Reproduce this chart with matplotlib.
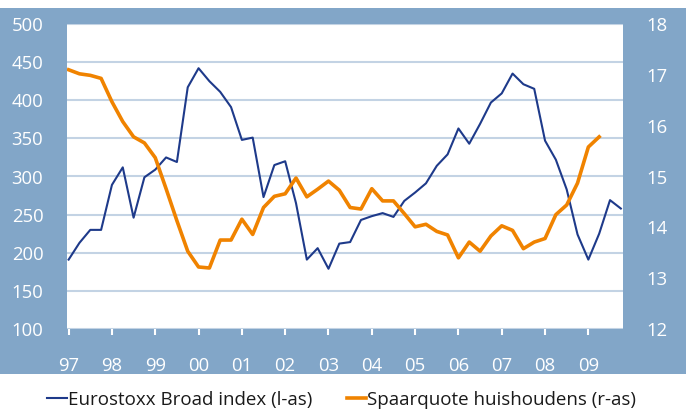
import matplotlib
matplotlib.use("Agg")
import matplotlib.pyplot as plt
from matplotlib.patches import Rectangle
import numpy as np

plt.rcParams['font.family'] = ['Open Sans', 'DejaVu Sans']

# Quarterly data, 1997Q1 .. 2009Q4
eurostoxx = [191, 213, 230, 230, 289, 312, 246, 299, 309, 325, 319, 417,
             442, 425, 411, 391, 348, 351, 273, 315, 320, 265, 191, 206,
             179, 212, 214, 243, 248, 252, 247, 268, 279, 291, 314, 329,
             363, 343, 369, 397, 409, 435, 421, 415, 347, 322, 283, 224,
             191, 225, 269, 258]
spaarquote = [17.10, 17.02, 16.99, 16.93, 16.47, 16.08, 15.78, 15.66, 15.37, 14.76,
              14.13, 13.53, 13.22, 13.20, 13.75, 13.75, 14.16, 13.86, 14.39, 14.61,
              14.66, 14.97, 14.60, 14.75, 14.91, 14.73, 14.39, 14.36, 14.76, 14.52,
              14.52, 14.27, 14.01, 14.06, 13.92, 13.85, 13.40, 13.71, 13.53, 13.83,
              14.03, 13.94, 13.58, 13.71, 13.78, 14.25, 14.44, 14.87, 15.58, 15.78]
year_labels = ['97', '98', '99', '00', '01', '02', '03', '04', '05', '06', '07', '08', '09']
left_ticks = [100, 150, 200, 250, 300, 350, 400, 450, 500]
right_ticks = [12, 13, 14, 15, 16, 17, 18]

BAND = '#82A6C8'
NAVY = '#1E3A8A'
ORANGE = '#F08300'
GRID = '#C3D3E4'

W, H = 686, 419
fig = plt.figure(figsize=(W / 100, H / 100), dpi=100, facecolor='white')

# blue frame band
fig.patches.append(Rectangle((0, 1 - 374 / H), 1, (374 - 8) / H,
                             transform=fig.transFigure, facecolor=BAND,
                             edgecolor='none', zorder=-10))

x0, x1, ytop, ybot = 67, 623, 24, 329
ax = fig.add_axes([x0 / W, 1 - ybot / H, (x1 - x0) / W, (ybot - ytop) / H])
ax.set_facecolor('white')
ax2 = ax.twinx()

xq = np.arange(len(eurostoxx))
xo = np.arange(len(spaarquote))

ax.plot(xq, eurostoxx, color=NAVY, lw=1.5, label='Eurostoxx Broad index (l-as)', zorder=3)
ax2.plot(xo, spaarquote, color=ORANGE, lw=2.6, label='Spaarquote huishoudens (r-as)', zorder=3)

ax.set_xlim(-0.15, 51.2)
ax.set_ylim(100, 500)
ax2.set_ylim(12, 18)
ax.set_yticks(left_ticks)
ax2.set_yticks(right_ticks)
ax.set_xticks(np.arange(0, 52, 4))
ax.set_xticklabels(year_labels)

ax.grid(axis='y', color=GRID, lw=1.5, zorder=1)
ax.set_axisbelow(True)

for a in (ax, ax2):
    for s in a.spines.values():
        s.set_visible(False)

ax.tick_params(axis='x', colors='white', length=4, width=1.5, direction='out',
               pad=16, labelsize=13.3)
ax.tick_params(axis='y', length=0, pad=17, labelsize=13.3, labelcolor='white')
ax2.tick_params(axis='y', length=0, pad=17, labelsize=13.3, labelcolor='white')

h1, l1 = ax.get_legend_handles_labels()
h2, l2 = ax2.get_legend_handles_labels()
fig.legend(h1 + h2, l1 + l2, loc='center', bbox_to_anchor=(0.498, 1 - 400 / H),
           ncol=2, frameon=False, fontsize=13.5, handlelength=1.05,
           handletextpad=0.05, columnspacing=1.85, labelcolor='#1a1a1a')

fig.savefig('out.png', dpi=100, facecolor='white')
